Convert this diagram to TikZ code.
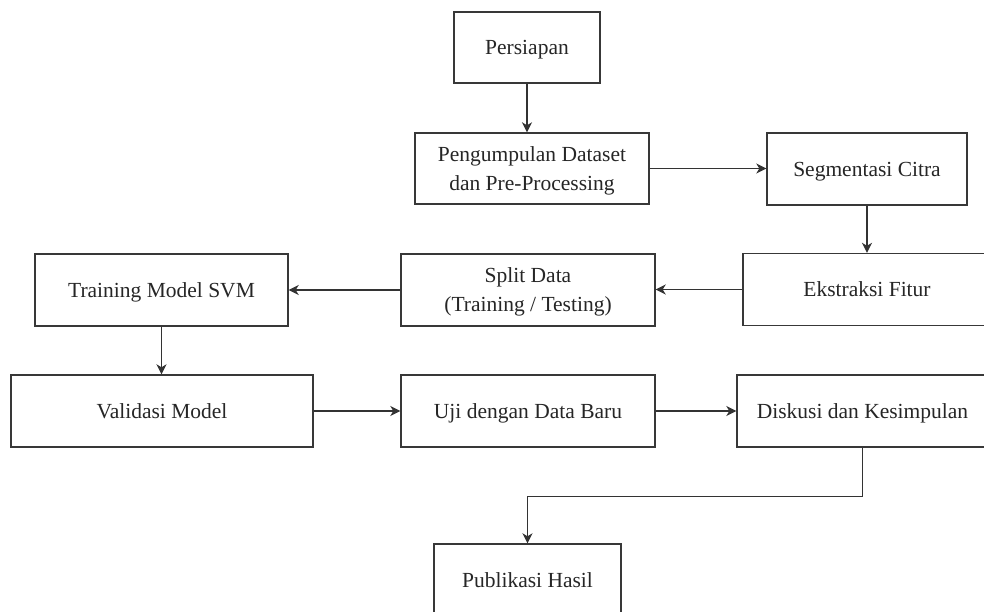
\documentclass[tikz,border=0pt]{standalone}
\usepackage{fontspec}
\setmainfont{Liberation Serif}
\usetikzlibrary{arrows.meta}
\begin{document}
\begin{tikzpicture}[x=1pt,y=-1pt,
  box/.style={draw=black!78, line width=1.4pt, rectangle, inner sep=0pt, align=center,
    text=black!85, text depth=0pt, font=\fontsize{21.5}{29}\selectfont},
  arr/.style={draw=black!80, line width=1.4pt, -{Stealth[length=10pt,width=10pt,inset=3pt]}}]
\useasboundingbox[fill=white] (0,0) rectangle (984,612);
\node[box, minimum width=146, minimum height=71] (P) at (527,47.5) {Persiapan};
\node[box, minimum width=234, minimum height=71] (Q) at (532,168.5) {Pengumpulan Dataset\\dan Pre-Processing};
\node[box, minimum width=200, minimum height=72] (S) at (867,169) {Segmentasi Citra};
\node[box, minimum width=248, minimum height=72] (E) at (867,289.5) {Ekstraksi Fitur};
\node[box, minimum width=254, minimum height=72] (D) at (528,290) {Split Data\\(Training / Testing)};
\node[box, minimum width=253, minimum height=72] (T) at (161.5,290) {Training Model SVM};
\node[box, minimum width=302, minimum height=72] (V) at (162,411) {Validasi Model};
\node[box, minimum width=254, minimum height=72] (U) at (528,411) {Uji dengan Data Baru};
\node[box, minimum width=251, minimum height=72] (K) at (862.5,411) {Diskusi dan Kesimpulan};
\node[box, minimum width=187, minimum height=72] (H) at (527.5,580) {Publikasi Hasil};
\draw[arr] (P.south) -- (P.south |- Q.north);
\draw[arr] (Q.east) -- (Q.east -| S.west);
\draw[arr] (S.south) -- (S.south |- E.north);
\draw[arr] (E.west) -- (E.west -| D.east);
\draw[arr] (D.west) -- (D.west -| T.east);
\draw[arr] (T.south) -- (T.south |- V.north);
\draw[arr] (V.east) -- (V.east -| U.west);
\draw[arr] (U.east) -- (U.east -| K.west);
\draw[arr] (K.south) -- ++(0,49) -| (H.north);
\end{tikzpicture}
\end{document}
